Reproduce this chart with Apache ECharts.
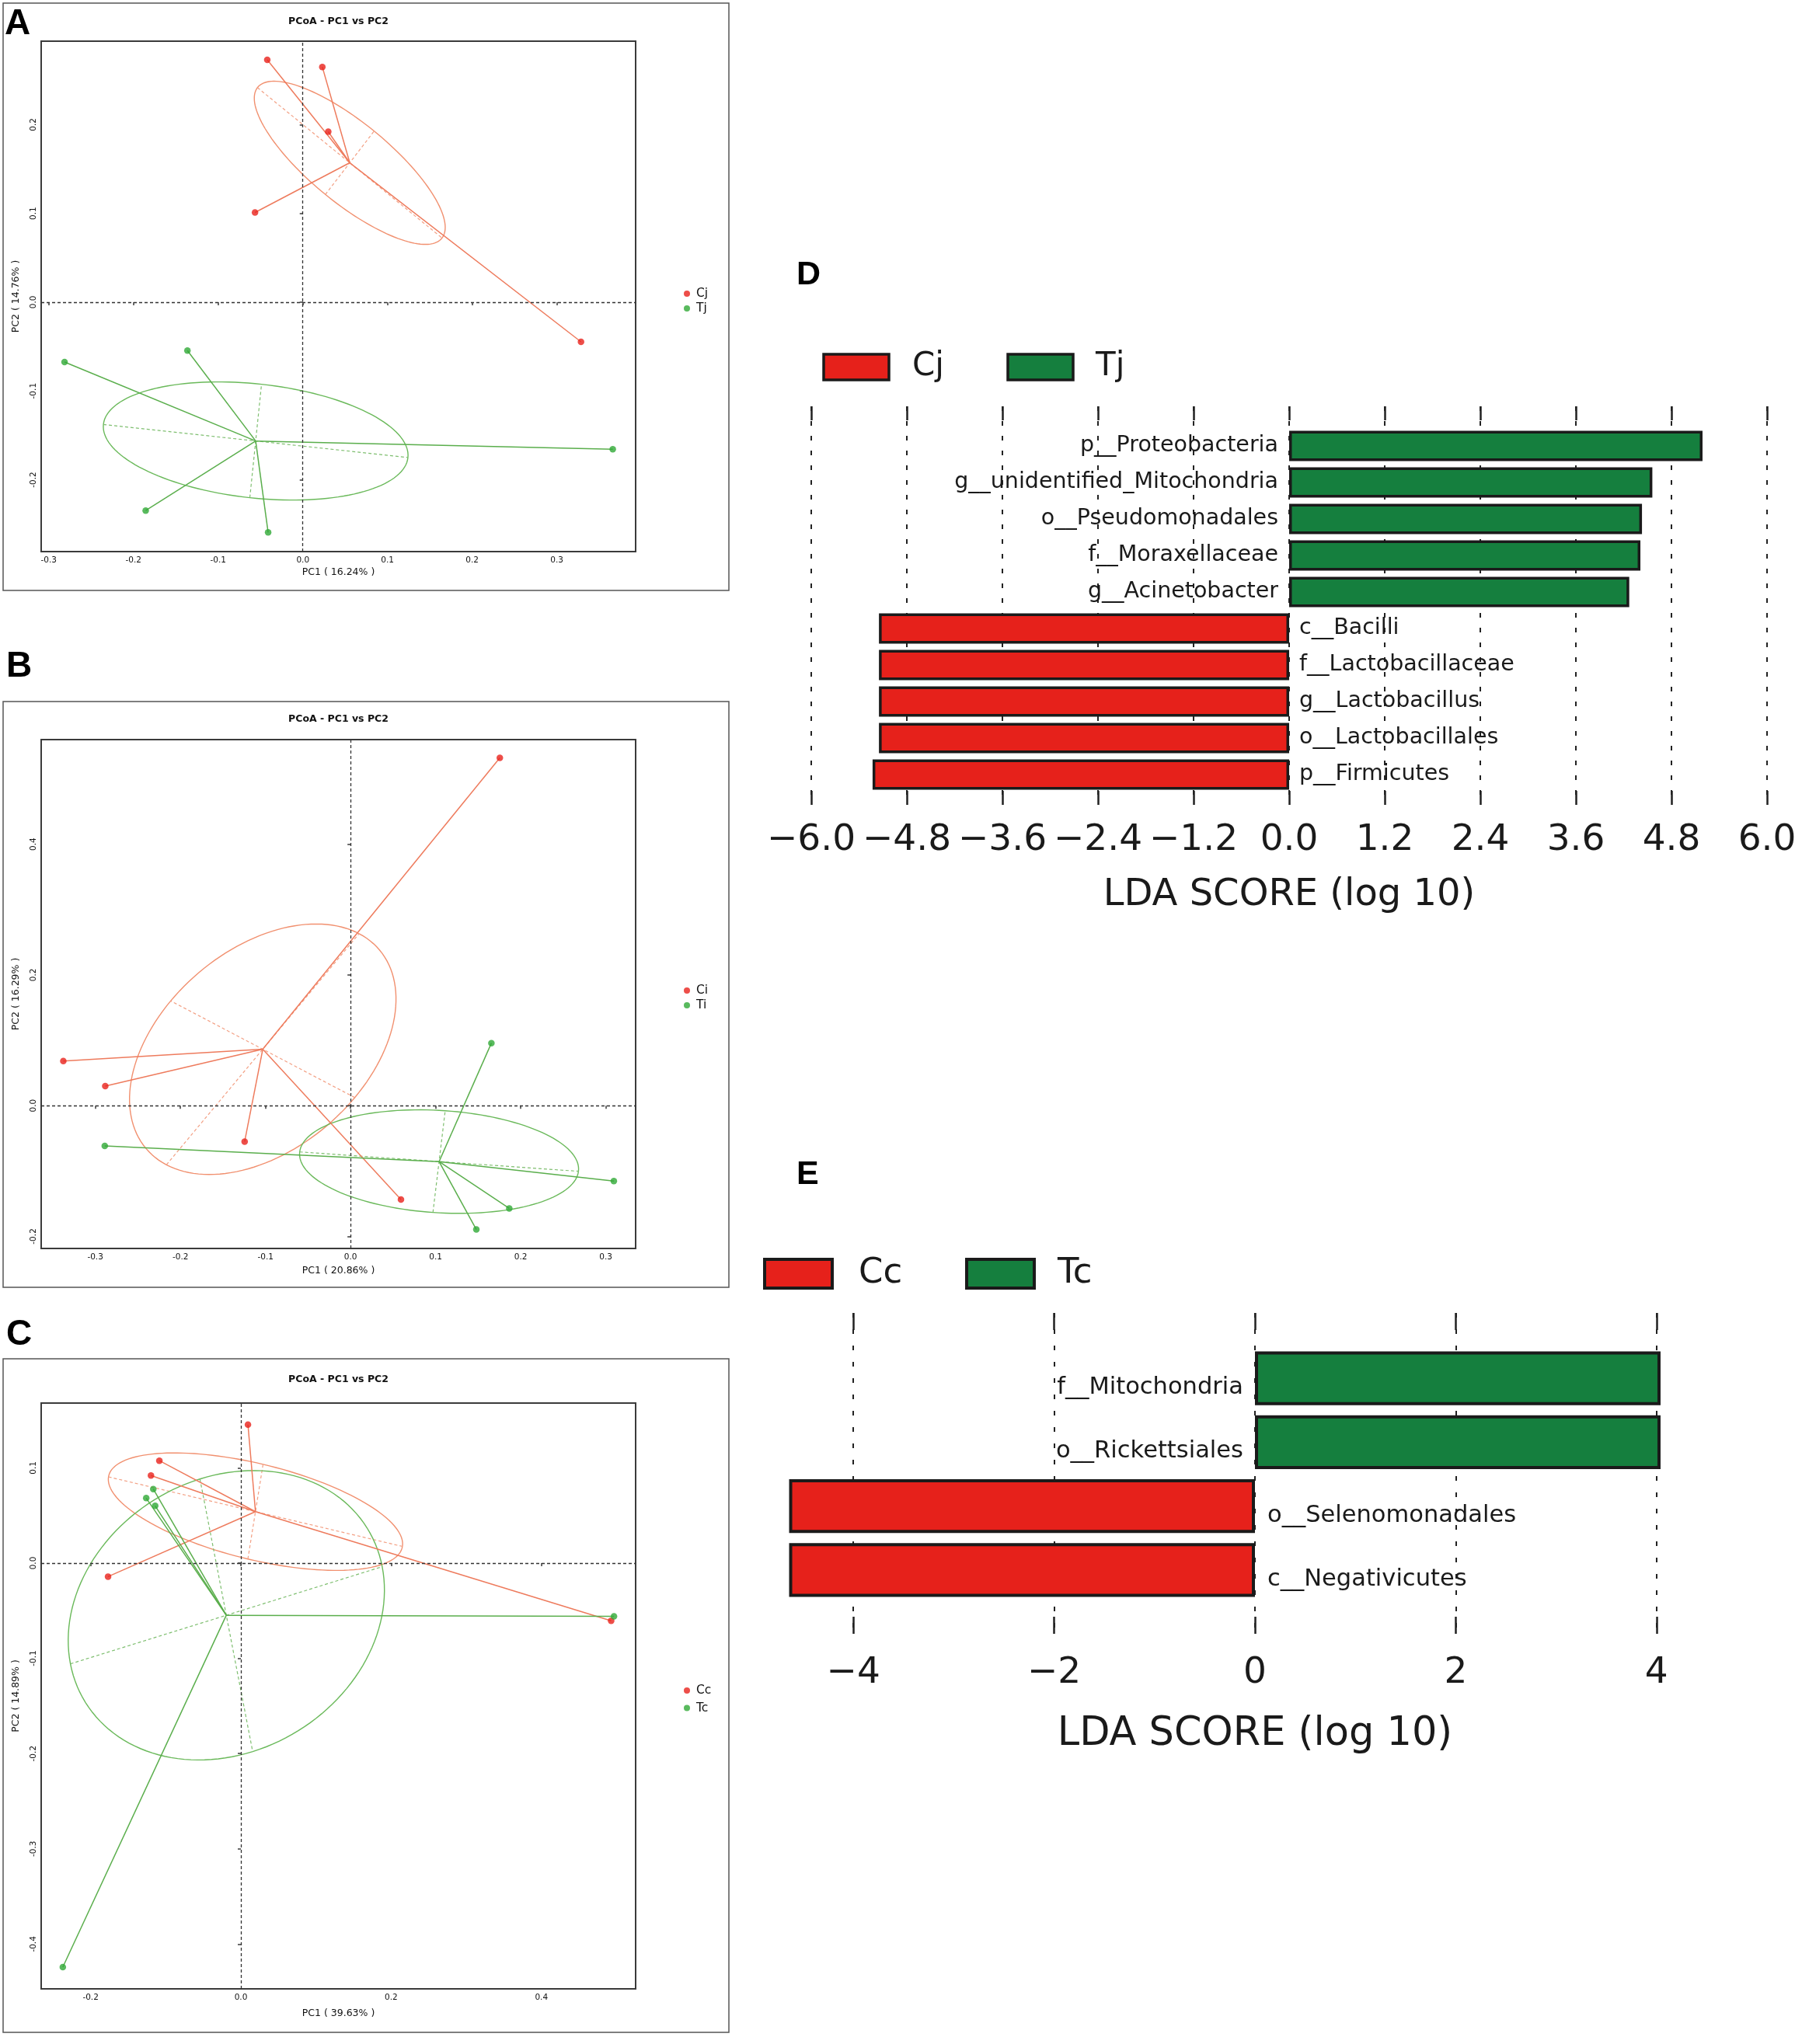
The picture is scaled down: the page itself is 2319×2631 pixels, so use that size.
<!DOCTYPE html>
<html>
<head>
<meta charset="utf-8">
<title>PCoA and LEfSe</title>
<script src="https://cdn.jsdelivr.net/npm/echarts@6/dist/echarts.min.js"></script>
<style>
  html, body { margin: 0; padding: 0; background: #fff; }
  #fig { width: 2319px; height: 2631px; }
</style>
</head>
<body>
<div id="fig"></div>
<script>
var FONT = 'DejaVu Sans';

// ---------- A: PCoA Cj / Tj ----------
var pointsA_Cj = [[-0.042, 0.273], [0.023, 0.265], [0.030, 0.192], [-0.0565, 0.101], [0.3285, -0.0447]];
var pointsA_Tj = [[-0.2814, -0.0675], [-0.1363, -0.0546], [0.366, -0.1656], [-0.1856, -0.2348], [-0.041, -0.2594]];
var centerA_Cj = [0.0554, 0.157];
var centerA_Tj = [-0.0557, -0.1564];
var axesA_Cj = [[0.1644, 0.0723], [0.0842, 0.1927]];   // major / minor axis ends
var axesA_Tj = [[0.1241, -0.175], [-0.0488, -0.0925]];
var xTicksA = [-0.3, -0.2, -0.1, 0, 0.1, 0.2, 0.3];
var yTicksA = [-0.2, -0.1, 0, 0.1, 0.2];

// ---------- B: PCoA Ci / Ti ----------
var pointsB_Ci = [[0.1754, 0.532], [-0.3376, 0.0682], [-0.2883, 0.0299], [-0.1245, -0.055], [0.0592, -0.1435]];
var pointsB_Ti = [[0.1655, 0.0957], [-0.2889, -0.0616], [0.3094, -0.1154], [0.1865, -0.1572], [0.1478, -0.1895]];
var centerB_Ci = [-0.1032, 0.0863];
var centerB_Ti = [0.104, -0.0856];
var axesB_Ci = [[0.0100, 0.2631], [-0.2114, 0.1602]];
var axesB_Ti = [[0.2678, -0.1004], [0.1112, -0.0078]];
var xTicksB = [-0.3, -0.2, -0.1, 0, 0.1, 0.2, 0.3];
var yTicksB = [-0.2, 0, 0.2, 0.4];

// ---------- C: PCoA Cc / Tc ----------
var pointsC_Cc = [[0.0094, 0.1454], [-0.1085, 0.1075], [-0.1197, 0.0919], [-0.1768, -0.0142], [0.4928, -0.0606]];
var pointsC_Tc = [[-0.1166, 0.0777], [-0.126, 0.0682], [-0.1141, 0.0601], [0.4966, -0.0559], [-0.237, -0.4242]];
var centerC_Cc = [0.0194, 0.054];
var centerC_Tc = [-0.0194, -0.0548];
var axesC_Cc = [[0.215, 0.0175], [0.0295, 0.1037]];
var axesC_Tc = [[0.1881, -0.0038], [0.0157, -0.1979]];
var xTicksC = [-0.2, 0, 0.2, 0.4];
var yTicksC = [-0.4, -0.3, -0.2, -0.1, 0, 0.1];

// ---------- D: LDA Cj / Tj ----------
var ldaD_names = ['p__Proteobacteria', 'g__unidentified_Mitochondria', 'o__Pseudomonadales',
    'f__Moraxellaceae', 'g__Acinetobacter', 'c__Bacilli', 'f__Lactobacillaceae',
    'g__Lactobacillus', 'o__Lactobacillales', 'p__Firmicutes'];
var ldaD_Tj = [5.19, 4.56, 4.43, 4.41, 4.27, '-', '-', '-', '-', '-'];
var ldaD_Cj = ['-', '-', '-', '-', '-', -5.15, -5.15, -5.15, -5.15, -5.23];

// ---------- E: LDA Cc / Tc ----------
var ldaE_names = ['f__Mitochondria', 'o__Rickettsiales', 'o__Selenomonadales', 'c__Negativicutes'];
var ldaE_Tc = [4.04, 4.04, '-', '-'];
var ldaE_Cc = ['-', '-', -4.64, -4.64];

var RED_PT = '#e8221c', RED_LN = '#ee7b5d', RED_EL = '#f1906f', RED_DASH = '#f3a084';
var GRN_PT = '#30a936', GRN_LN = '#5aae4c', GRN_EL = '#6ab95a', GRN_DASH = '#7fbf70';
var BAR_RED = '#e6211b', BAR_GRN = '#157f3e', BAR_EDGE = '#1a1a1a';

var option = {
    animation: false,
    backgroundColor: '#ffffff',
    grid: [], xAxis: [], yAxis: [], series: [], legend: [], graphic: []
};

function fmt1(v) {
    return v.toFixed(1);
}

function ldaFmt(digits) {
    return function (v) {
        var s = Math.abs(v).toFixed(digits);
        return v < 0 ? '\u2212' + s : s;
    };
}

// 椭圆：中心 + 两个半轴端点，经坐标轴换算后画出
function ellipseRender(lineColor, dashColor) {
    return function (params, api) {
        var c = api.coord([api.value(0), api.value(1)]);
        var a = api.coord([api.value(2), api.value(3)]);
        var b = api.coord([api.value(4), api.value(5)]);
        var u = [a[0] - c[0], a[1] - c[1]];
        var w = [b[0] - c[0], b[1] - c[1]];
        var outline = [];
        for (var k = 0; k <= 144; k++) {
            var t = Math.PI * 2 * k / 144;
            outline.push([c[0] + u[0] * Math.cos(t) + w[0] * Math.sin(t),
                          c[1] + u[1] * Math.cos(t) + w[1] * Math.sin(t)]);
        }
        return {
            type: 'group',
            children: [
                { type: 'polyline', shape: { points: outline },
                  style: { stroke: lineColor, lineWidth: 1.4, fill: 'none' } },
                { type: 'line', shape: { x1: c[0] - u[0], y1: c[1] - u[1], x2: c[0] + u[0], y2: c[1] + u[1] },
                  style: { stroke: dashColor, lineWidth: 1.2, lineDash: [4, 3] } },
                { type: 'line', shape: { x1: c[0] - w[0], y1: c[1] - w[1], x2: c[0] + w[0], y2: c[1] + w[1] },
                  style: { stroke: dashColor, lineWidth: 1.2, lineDash: [4, 3] } }
            ]
        };
    };
}

function addGroup(i, name, points, center, axes, ptColor, lnColor, elColor, dashColor, zeroLines) {
    option.series.push({
        type: 'lines', coordinateSystem: 'cartesian2d', xAxisIndex: i, yAxisIndex: i,
        silent: true, z: 2,
        lineStyle: { color: lnColor, width: 1.5, opacity: 1 },
        data: points.map(function (p) { return { coords: [center, p] }; })
    });
    option.series.push({
        type: 'custom', xAxisIndex: i, yAxisIndex: i, silent: true, z: 1,
        renderItem: ellipseRender(elColor, dashColor),
        data: [center.concat(axes[0], axes[1])]
    });
    var sc = {
        name: name, type: 'scatter', xAxisIndex: i, yAxisIndex: i, z: 3,
        symbol: 'circle', symbolSize: 8.5,
        itemStyle: { color: ptColor },
        data: points
    };
    if (zeroLines) {
        sc.markLine = {
            silent: true, symbol: ['none', 'none'], label: { show: false },
            lineStyle: { color: '#333', type: [4, 3], width: 1.3 },
            data: [{ xAxis: 0 }, { yAxis: 0 }]
        };
    }
    option.series.push(sc);
}

function addPcoa(i, lay, xRange, yRange, xTicks, yTicks, xName, yName) {
    option.grid.push({
        left: lay.left, top: lay.top, width: lay.width, height: lay.height,
        show: true, borderColor: '#3b3b3b', borderWidth: 2
    });
    option.xAxis.push({
        gridIndex: i, type: 'value', min: xRange[0], max: xRange[1],
        name: xName, nameLocation: 'middle', nameGap: lay.xNameGap,
        nameTextStyle: { fontSize: 12.5, color: '#111', fontFamily: FONT },
        axisLine: { show: false }, splitLine: { show: false },
        axisTick: { show: true, customValues: xTicks, length: 4, lineStyle: { color: '#3b3b3b', width: 1.5 } },
        axisLabel: { customValues: xTicks, formatter: fmt1, margin: 6,
                     fontSize: 10.5, color: '#111', fontFamily: FONT }
    });
    option.yAxis.push({
        gridIndex: i, type: 'value', min: yRange[0], max: yRange[1],
        name: yName, nameLocation: 'middle', nameGap: 26,
        nameTextStyle: { fontSize: 12.5, color: '#111', fontFamily: FONT },
        axisLine: { show: false }, splitLine: { show: false },
        axisTick: { show: true, customValues: yTicks, length: 4, lineStyle: { color: '#3b3b3b', width: 1.5 } },
        axisLabel: { customValues: yTicks, formatter: fmt1, margin: 4, rotate: 90,
                     fontSize: 10.5, color: '#111', fontFamily: FONT }
    });
    option.graphic.push({
        type: 'rect', shape: { x: lay.box[0], y: lay.box[1], width: lay.box[2], height: lay.box[3] },
        style: { fill: 'none', stroke: '#555', lineWidth: 1.5 }, silent: true
    });
    option.graphic.push({
        type: 'text', x: lay.left + lay.width / 2, y: lay.titleY,
        style: { text: 'PCoA - PC1 vs PC2', align: 'center', verticalAlign: 'middle',
                 font: 'bold 12.5px "DejaVu Sans"', fill: '#111' }
    });
    option.graphic.push({
        type: 'text', x: lay.letter[0], y: lay.letter[1],
        style: { text: lay.label, align: 'left', verticalAlign: 'middle',
                 font: 'bold 46px "Liberation Sans"', fill: '#000' }
    });
}

function addLegendPcoa(names, top, gap) {
    option.legend.push({
        data: names, orient: 'vertical', left: 875, top: top, icon: 'circle',
        itemWidth: 14, itemHeight: 8, itemGap: gap, selectedMode: false,
        textStyle: { fontSize: 15.5, lineHeight: 16, color: '#111', fontFamily: FONT }
    });
}

// ---- A ----
addPcoa(0, { left: 53, top: 53, width: 765, height: 657, xNameGap: 20, titleY: 28,
             box: [4, 4, 934, 756], letter: [6, 31], label: 'A' },
        [-0.309, 0.393], [-0.281, 0.294], xTicksA, yTicksA, 'PC1 ( 16.24% )', 'PC2 ( 14.76% )');
addGroup(0, 'Cj', pointsA_Cj, centerA_Cj, axesA_Cj, RED_PT, RED_LN, RED_EL, RED_DASH, true);
addGroup(0, 'Tj', pointsA_Tj, centerA_Tj, axesA_Tj, GRN_PT, GRN_LN, GRN_EL, GRN_DASH, false);
addLegendPcoa(['Cj', 'Tj'], 365, 3);

// ---- B ----
addPcoa(1, { left: 53, top: 952, width: 765, height: 655, xNameGap: 22, titleY: 926,
             box: [4, 903, 934, 754], letter: [8, 858], label: 'B' },
        [-0.3636, 0.335], [-0.2185, 0.560], xTicksB, yTicksB, 'PC1 ( 20.86% )', 'PC2 ( 16.29% )');
addGroup(1, 'Ci', pointsB_Ci, centerB_Ci, axesB_Ci, RED_PT, RED_LN, RED_EL, RED_DASH, true);
addGroup(1, 'Ti', pointsB_Ti, centerB_Ti, axesB_Ti, GRN_PT, GRN_LN, GRN_EL, GRN_DASH, false);
addLegendPcoa(['Ci', 'Ti'], 1262, 3);

// ---- C ----
addPcoa(2, { left: 53, top: 1806, width: 765, height: 754, xNameGap: 25, titleY: 1776,
             box: [4, 1749, 934, 867], letter: [8, 1718], label: 'C' },
        [-0.2658, 0.5254], [-0.447, 0.168], xTicksC, yTicksC, 'PC1 ( 39.63% )', 'PC2 ( 14.89% )');
addGroup(2, 'Cc', pointsC_Cc, centerC_Cc, axesC_Cc, RED_PT, RED_LN, RED_EL, RED_DASH, true);
addGroup(2, 'Tc', pointsC_Tc, centerC_Tc, axesC_Tc, GRN_PT, GRN_LN, GRN_EL, GRN_DASH, false);
addLegendPcoa(['Cc', 'Tc'], 2163, 6.5);

// LDA 柱状图：一套网格画虚线刻度，一套网格画柱子
function addLda(lay, names, posVals, negVals, posName, negName) {
    var g = option.grid.length;
    option.grid.push({ left: lay.lineLeft, top: lay.lineTop, width: lay.lineWidth, height: lay.lineHeight });
    option.grid.push({ left: lay.barLeft, top: lay.barTop, width: lay.barWidth, height: lay.barHeight });
    var tick = { show: true, inside: true, length: lay.tickLen, lineStyle: { color: '#222', width: 2.5 } };
    var xb = option.xAxis.length;
    option.xAxis.push({
        gridIndex: g, type: 'value', position: 'bottom', min: lay.min, max: lay.max, interval: lay.interval,
        name: 'LDA SCORE (log 10)', nameLocation: 'middle', nameGap: lay.nameGap,
        nameTextStyle: { fontSize: lay.nameSize, color: '#1a1a1a', fontFamily: FONT },
        axisLine: { show: false }, axisTick: tick,
        splitLine: { show: true, lineStyle: { color: '#222', width: 2, type: lay.dash } },
        axisLabel: { formatter: ldaFmt(lay.digits), margin: lay.labelMargin,
                     fontSize: lay.tickSize, color: '#1a1a1a', fontFamily: FONT }
    });
    option.xAxis.push({
        gridIndex: g, type: 'value', position: 'top', min: lay.min, max: lay.max, interval: lay.interval,
        axisLine: { show: false }, axisTick: tick, splitLine: { show: false }, axisLabel: { show: false }
    });
    option.xAxis.push({ gridIndex: g + 1, type: 'value', min: lay.barMin, max: lay.barMax, show: false });
    var yl = option.yAxis.length;
    option.yAxis.push({ gridIndex: g, type: 'value', min: 0, max: 1, show: false });
    option.yAxis.push({ gridIndex: g + 1, type: 'category', data: names, inverse: true, show: false });
    var lbl = { show: true, formatter: '{b}', fontSize: lay.catSize, color: '#1a1a1a',
                fontFamily: FONT, offset: [0, lay.labelDy] };
    option.series.push({
        name: posName, type: 'bar', xAxisIndex: xb + 2, yAxisIndex: yl + 1,
        barCategoryGap: lay.gap, barGap: '-100%', z: 3,
        itemStyle: { color: BAR_GRN, borderColor: BAR_EDGE, borderWidth: lay.edge },
        label: Object.assign({ position: 'left', distance: lay.posDist }, lbl),
        data: posVals
    });
    option.series.push({
        name: negName, type: 'bar', xAxisIndex: xb + 2, yAxisIndex: yl + 1,
        barCategoryGap: lay.gap, barGap: '-100%', z: 3,
        itemStyle: { color: BAR_RED, borderColor: BAR_EDGE, borderWidth: lay.edge },
        label: Object.assign({ position: 'right', distance: lay.negDist }, lbl),
        data: negVals
    });
    // 图例方块与字母
    var leg = lay.legend;
    option.graphic.push(
        { type: 'rect', shape: { x: leg.red[0], y: leg.y, width: leg.w, height: leg.h },
          style: { fill: BAR_RED, stroke: BAR_EDGE, lineWidth: lay.edge } },
        { type: 'text', x: leg.redText, y: leg.y + leg.h / 2,
          style: { text: negName, verticalAlign: 'middle', font: leg.font, fill: '#1a1a1a' } },
        { type: 'rect', shape: { x: leg.green[0], y: leg.y, width: leg.w, height: leg.h },
          style: { fill: BAR_GRN, stroke: BAR_EDGE, lineWidth: lay.edge } },
        { type: 'text', x: leg.greenText, y: leg.y + leg.h / 2,
          style: { text: posName, verticalAlign: 'middle', font: leg.font, fill: '#1a1a1a' } },
        { type: 'text', x: lay.letter[0], y: lay.letter[1],
          style: { text: lay.label, verticalAlign: 'middle', font: 'bold 43px "Liberation Sans"', fill: '#000' } }
    );
}

// ---- D ----
addLda({
    lineLeft: 1044, lineTop: 523, lineWidth: 1230, lineHeight: 513,
    barLeft: 1044, barTop: 550.5, barWidth: 1230, barHeight: 470,
    min: -6, max: 6, interval: 1.2, barMin: -6, barMax: 6, digits: 1,
    tickLen: 18, dash: [6, 13], tickSize: 47, labelMargin: 22, nameSize: 48, nameGap: 93,
    catSize: 28.5, labelDy: 0, posDist: 14, negDist: 13, gap: '17%', edge: 3.5,
    legend: { y: 456, w: 84, h: 33, red: [1060], green: [1297], redText: 1174, greenText: 1410,
              font: '42px "DejaVu Sans"' },
    letter: [1025, 354], label: 'D'
}, ldaD_names, ldaD_Tj, ldaD_Cj, 'Tj', 'Cj');

// ---- E ----
addLda({
    lineLeft: 1098.2, lineTop: 1690, lineWidth: 1033.6, lineHeight: 413,
    barLeft: 969, barTop: 1733, barWidth: 1292, barHeight: 329,
    min: -4, max: 4, interval: 2, barMin: -5, barMax: 5, digits: 0,
    tickLen: 22, dash: [6, 15], tickSize: 47, labelMargin: 27, nameSize: 51, nameGap: 104,
    catSize: 30.5, labelDy: 12, posDist: 15, negDist: 16, gap: '16%', edge: 4,
    legend: { y: 1621, w: 87, h: 37, red: [984], green: [1244], redText: 1105, greenText: 1361,
              font: '45px "DejaVu Sans"' },
    letter: [1025, 1512], label: 'E'
}, ldaE_names, ldaE_Tc, ldaE_Cc, 'Tc', 'Cc');

var myChart = echarts.init(document.getElementById('fig'), null, { renderer: 'canvas' });
myChart.setOption(option);
</script>
</body>
</html>
